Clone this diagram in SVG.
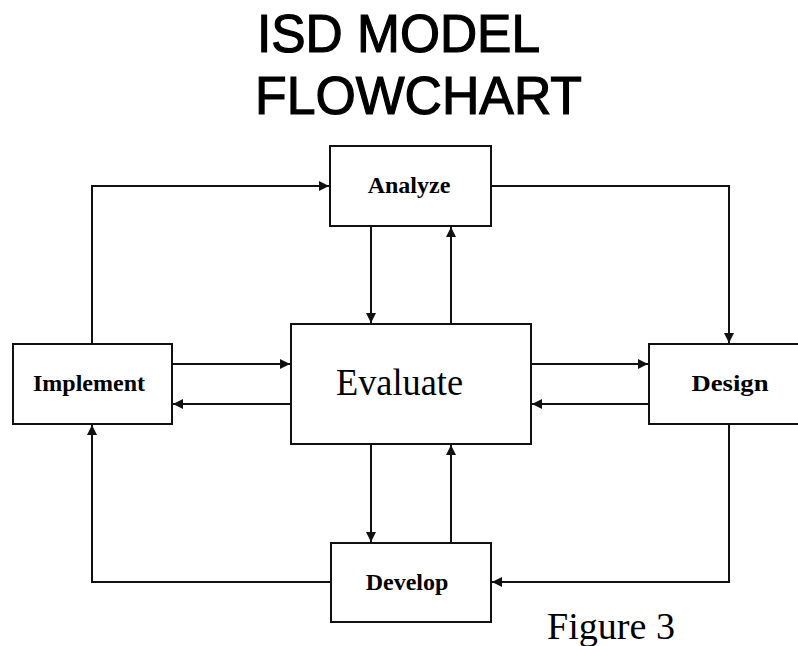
<svg xmlns="http://www.w3.org/2000/svg" width="798" height="646" viewBox="0 0 798 646">
  <style>
    .box { fill: #ffffff; stroke: #111111; stroke-width: 2; }
    .link { fill: none; stroke: #111111; stroke-width: 2; }
    .title { font-family: "Liberation Sans", Arial, sans-serif; font-size: 54px; fill: #000000; stroke: #000000; stroke-width: 1.2; }
    .label { font-family: "Liberation Serif", "Times New Roman", serif; font-size: 24px; font-weight: bold; fill: #000000; text-anchor: middle; }
    .big { font-family: "Liberation Serif", "Times New Roman", serif; font-size: 37px; fill: #000000; }
  </style>
  <defs>
    <marker id="arrow" viewBox="0 0 10 10" refX="10" refY="5" markerWidth="10" markerHeight="10" markerUnits="userSpaceOnUse" orient="auto">
      <path d="M0,0 L10,5 L0,10 z" fill="#111111"/>
    </marker>
  </defs>

  <rect width="798" height="646" fill="#ffffff"/>

  <!-- heading -->
  <text class="title" x="257" y="52" textLength="283" lengthAdjust="spacingAndGlyphs">ISD MODEL</text>
  <text class="title" x="255" y="114" textLength="327" lengthAdjust="spacingAndGlyphs">FLOWCHART</text>

  <!-- connectors -->
  <g id="connectors">
    <!-- Implement -> Analyze -->
    <path class="link" d="M92,344 V186 H329" marker-end="url(#arrow)"/>
    <!-- Analyze -> Design -->
    <path class="link" d="M491,186 H729 V343" marker-end="url(#arrow)"/>
    <!-- Design -> Develop -->
    <path class="link" d="M729,424 V582 H492" marker-end="url(#arrow)"/>
    <!-- Develop -> Implement -->
    <path class="link" d="M331,582 H92 V425" marker-end="url(#arrow)"/>

    <!-- Analyze <-> Evaluate -->
    <path class="link" d="M371,226 V323" marker-end="url(#arrow)"/>
    <path class="link" d="M451,324 V227" marker-end="url(#arrow)"/>
    <!-- Evaluate <-> Develop -->
    <path class="link" d="M371,444 V542" marker-end="url(#arrow)"/>
    <path class="link" d="M451,543 V445" marker-end="url(#arrow)"/>
    <!-- Implement <-> Evaluate -->
    <path class="link" d="M172,364 H290" marker-end="url(#arrow)"/>
    <path class="link" d="M291,404 H173" marker-end="url(#arrow)"/>
    <!-- Evaluate <-> Design -->
    <path class="link" d="M531,364 H648" marker-end="url(#arrow)"/>
    <path class="link" d="M649,404 H532" marker-end="url(#arrow)"/>
  </g>

  <g id="analyze">
    <rect class="box" x="330" y="146" width="161" height="80"/>
    <text class="label" x="409" y="193">Analyze</text>
  </g>

  <g id="evaluate">
    <rect class="box" x="291" y="324" width="240" height="120"/>
    <text class="big" x="336" y="395" textLength="127" lengthAdjust="spacingAndGlyphs">Evaluate</text>
  </g>

  <g id="implement">
    <rect class="box" x="13" y="344" width="159" height="80"/>
    <text class="label" x="89" y="391">Implement</text>
  </g>

  <g id="design">
    <rect class="box" x="649" y="344" width="160" height="80"/>
    <text class="label" x="730" y="391" textLength="77" lengthAdjust="spacingAndGlyphs">Design</text>
  </g>

  <g id="develop">
    <rect class="box" x="331" y="543" width="160" height="79"/>
    <text class="label" x="407" y="590">Develop</text>
  </g>

  <text class="big" x="547" y="639" textLength="128" lengthAdjust="spacingAndGlyphs">Figure 3</text>
</svg>
